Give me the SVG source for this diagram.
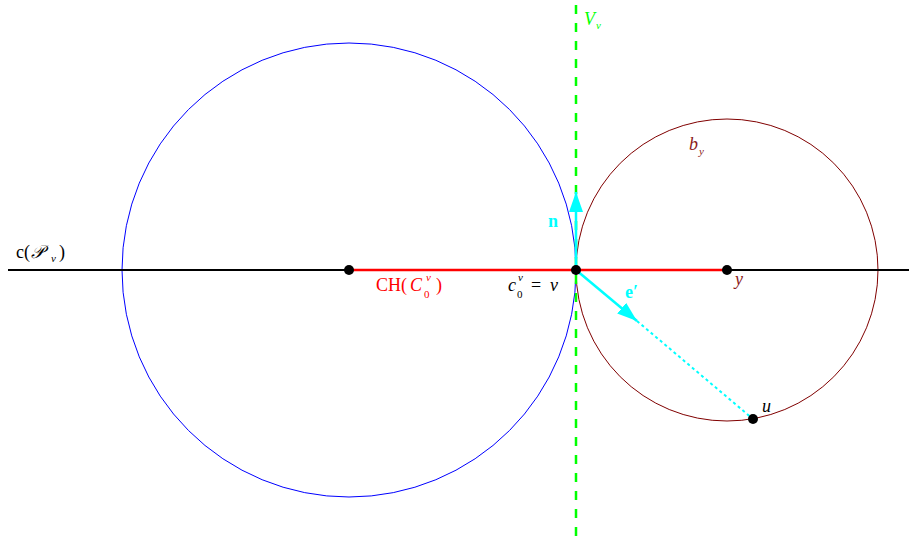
<svg xmlns="http://www.w3.org/2000/svg" width="909" height="545" viewBox="0 0 909 545">
<defs>
<style>
text{font-family:"Liberation Serif","DejaVu Serif",serif;font-size:18px}
.it{font-style:italic}
.b{font-weight:bold}
.s{font-size:11px}
.dot{fill:#000}
.red{fill:#ff0000}
.dr{fill:#8b1a1a}
.cy{fill:#00ffff}
.gr{fill:#00ff00}
</style>
<marker id="ah" viewBox="0 0 20 14" refX="20" refY="7" markerWidth="20" markerHeight="14" markerUnits="userSpaceOnUse" orient="auto">
<path d="M0,0 L20,7 L0,14 Z" fill="#00ffff"/>
</marker>
</defs>
<rect width="909" height="545" fill="#fff"/>
<g id="ball-blue"><circle cx="349" cy="270" r="227" fill="none" stroke="#0000ff" stroke-width="1"/></g>
<g id="ball-by"><circle cx="727" cy="270" r="151" fill="none" stroke="#800000" stroke-width="1"/>
<text class="it dr" x="689" y="150">b</text><text class="it dr s" x="699" y="155">y</text></g>
<g id="connectors">
<line x1="8" y1="270" x2="909" y2="270" stroke="#000" stroke-width="2"/>
<line x1="349" y1="270" x2="727" y2="270" stroke="#ff0000" stroke-width="2.5"/>
<line x1="576" y1="5" x2="576" y2="545" stroke="#00ff00" stroke-width="2.5" stroke-dasharray="9 9"/>
<line x1="576" y1="270" x2="576" y2="192" stroke="#00ffff" stroke-width="2.5" marker-end="url(#ah)"/>
<line x1="576" y1="270" x2="637" y2="321" stroke="#00ffff" stroke-width="2.5" marker-end="url(#ah)"/>
<line x1="637" y1="321" x2="753" y2="419" stroke="#00ffff" stroke-width="2" stroke-dasharray="3 3"/>
</g>
<g id="node-p">
<text x="16" y="258">c(</text>
<text class="it" x="31" y="258" font-family="DejaVu Serif, serif" font-size="16">𝒫</text>
<text class="it s" x="51" y="262">v</text>
<text x="59" y="258">)</text>
</g>
<g id="node-center"><circle class="dot" cx="349" cy="270" r="5"/>
<text class="red" x="376" y="291">CH(</text>
<text class="red it" x="410" y="291">C</text>
<text class="red s" x="424" y="298">0</text>
<text class="red it s" x="426" y="281">v</text>
<text class="red" x="436" y="291">)</text>
</g>
<g id="node-v"><circle class="dot" cx="576" cy="270" r="5"/>
<text class="it" x="508" y="291">c</text>
<text class="s" x="517" y="298">0</text>
<text class="it s" x="518" y="281">v</text>
<text x="531" y="291">=</text>
<text class="it" x="550" y="291">v</text>
</g>
<g id="node-y"><circle class="dot" cx="727" cy="270" r="5"/>
<text class="it dr" x="735" y="285">y</text></g>
<g id="node-u"><circle class="dot" cx="753" cy="419" r="5"/>
<text class="it" x="762" y="412">u</text></g>
<g id="label-n"><text class="b cy" x="548" y="227">n</text></g>
<g id="label-e"><text class="b cy" x="625" y="298">e′</text></g>
<g id="label-V"><text class="it gr" x="584" y="25">V</text><text class="it gr s" x="596" y="29">v</text></g>
</svg>
